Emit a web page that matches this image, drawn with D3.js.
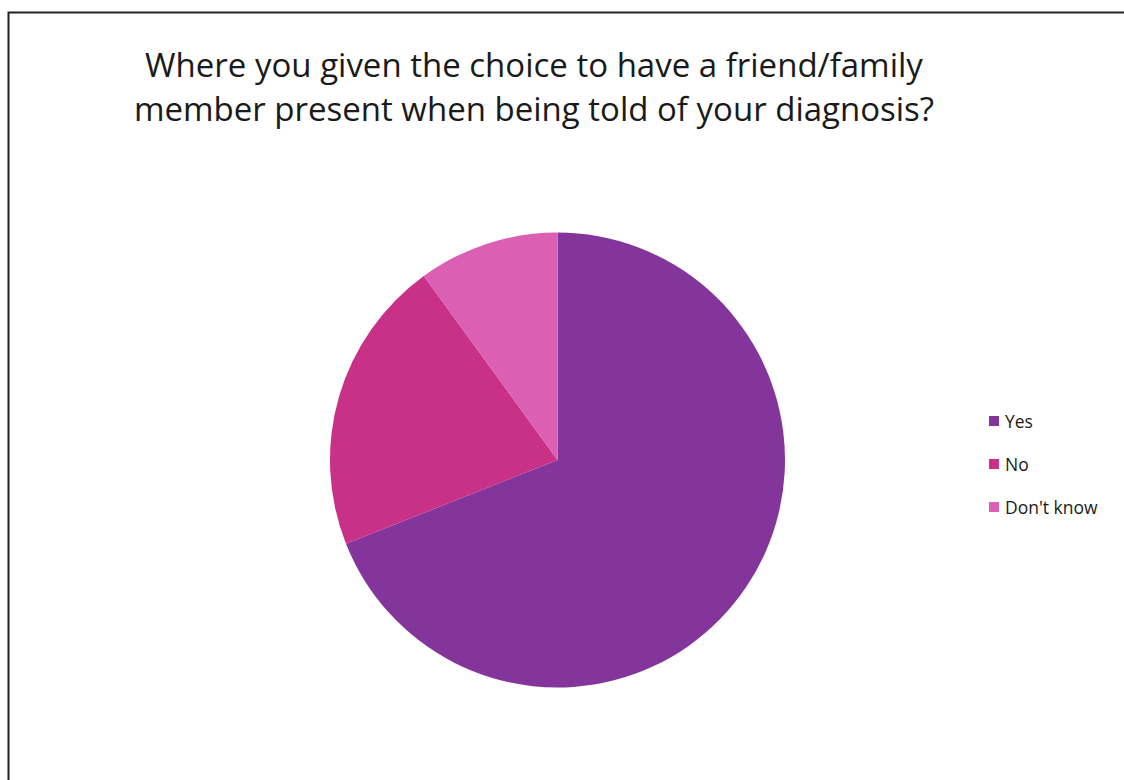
<!DOCTYPE html>
<html>
<head>
<meta charset="utf-8">
<script src="https://cdn.jsdelivr.net/npm/d3@7"></script>
<style>
  html, body { margin: 0; padding: 0; background: #fff; }
  svg { display: block; }
  text { font-family: "Open Sans", "Noto Sans", sans-serif; fill: #1a1a1a; }
</style>
</head>
<body>
<svg id="chart" width="1124" height="780"></svg>
<script>
// Survey answers (percent of respondents)
const categories = ["Yes", "No", "Don't know"];
const values = [69, 21, 10];
const colors = ["#84359b", "#c93087", "#db5fb2"];
const titleLines = [
  "Where you given the choice to have a friend/family",
  "member present when being told of your diagnosis?"
];

const svg = d3.select("#chart");

// Outer frame
svg.append("path")
  .attr("d", "M8.5,780 L8.5,12.5 L1124,12.5")
  .attr("fill", "none")
  .attr("stroke", "#222")
  .attr("stroke-width", 2);

// Title
svg.append("text")
  .attr("text-anchor", "middle")
  .attr("font-size", 33)
  .selectAll("tspan")
  .data(titleLines)
  .join("tspan")
  .attr("x", 534)
  .attr("y", (d, i) => 77 + i * 44)
  .text(d => d);

// Pie
const cx = 557.5, cy = 460, r = 227.5;
const color = d3.scaleOrdinal().domain(categories).range(colors);
const pie = d3.pie().sort(null).value(d => d.value);
const arc = d3.arc().innerRadius(0).outerRadius(r);
const data = categories.map((c, i) => ({ name: c, value: values[i] }));

svg.append("g")
  .attr("transform", `translate(${cx},${cy})`)
  .selectAll("path")
  .data(pie(data))
  .join("path")
  .attr("d", arc)
  .attr("fill", d => color(d.data.name));

// Legend
const legend = svg.append("g").attr("transform", "translate(989,421)");
const item = legend.selectAll("g")
  .data(categories)
  .join("g")
  .attr("transform", (d, i) => `translate(0,${i * 43})`);
item.append("rect")
  .attr("x", 0).attr("y", -5)
  .attr("width", 10).attr("height", 10)
  .attr("fill", d => color(d));
item.append("text")
  .attr("x", 16)
  .attr("y", 6.5)
  .attr("font-size", 17.5)
  .text(d => d);
</script>
</body>
</html>
